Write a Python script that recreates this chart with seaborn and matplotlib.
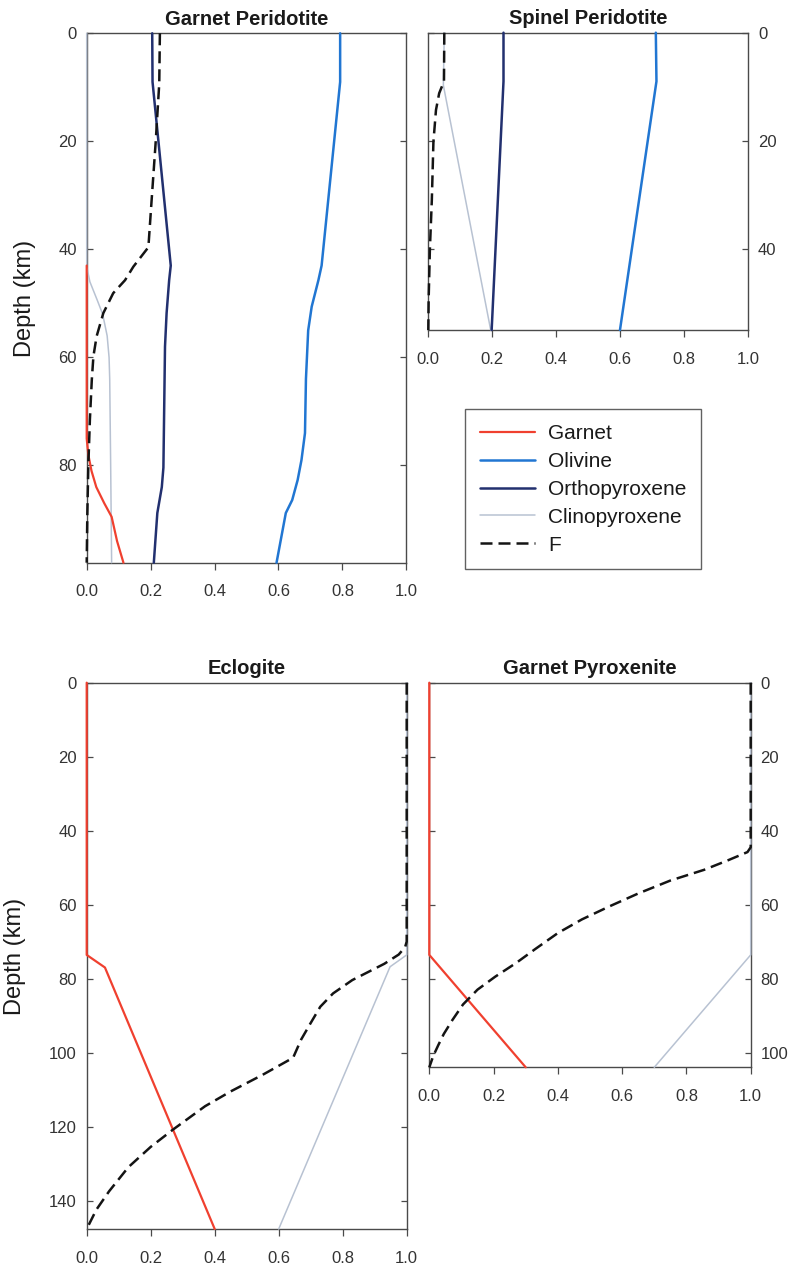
import matplotlib
matplotlib.use("Agg")
import matplotlib.pyplot as plt
import pandas as pd
import seaborn as sns
from matplotlib.lines import Line2D

sns.set_style("white")
plt.rcParams["font.family"] = ["Liberation Sans", "DejaVu Sans"]

# ---------------------------------------------------------------------------
# Modal proportions (fraction) of each phase and melt fraction F vs depth (km)
# ---------------------------------------------------------------------------

# Garnet peridotite
gp_garnet_depth = [43, 75, 78, 81, 84, 87, 89.5, 94, 98]
gp_garnet_frac = [0, 0, 0.005, 0.015, 0.03, 0.055, 0.078, 0.095, 0.115]
gp_olivine_depth = [0, 9, 43, 45.7, 50.6, 55, 64, 74, 79, 82.7, 86.4, 88.8, 98]
gp_olivine_frac = [0.793, 0.793, 0.735, 0.725, 0.704, 0.693, 0.686, 0.683,
                   0.672, 0.66, 0.643, 0.623, 0.594]
gp_opx_depth = [0, 9, 43, 45.7, 51.8, 58, 80.4, 84, 88.8, 98]
gp_opx_frac = [0.205, 0.206, 0.263, 0.258, 0.25, 0.245, 0.24, 0.235, 0.221, 0.21]
gp_cpx_depth = [0, 43.2, 46, 49.4, 52, 56, 60, 64, 80, 98]
gp_cpx_frac = [0, 0, 0.01, 0.033, 0.05, 0.064, 0.07, 0.072, 0.075, 0.078]
gp_f_depth = [0, 9.3, 20, 31, 39.6, 43.2, 45.7, 48.1, 51.8, 56.1, 59.8, 64.1,
              71.5, 80.2, 88.8, 98]
gp_f_frac = [0.229, 0.227, 0.216, 0.203, 0.193, 0.146, 0.12, 0.083, 0.052,
             0.031, 0.021, 0.016, 0.01, 0.005, 0.002, 0]

# Spinel peridotite
sp_olivine_depth = [0, 9, 55]
sp_olivine_frac = [0.711, 0.713, 0.599]
sp_opx_depth = [0, 9, 55]
sp_opx_frac = [0.235, 0.235, 0.198]
sp_cpx_depth = [0, 9.7, 55]
sp_cpx_frac = [0.05, 0.047, 0.195]
sp_f_depth = [0, 9, 11.2, 14.3, 20.2, 31, 40, 49.5, 55]
sp_f_frac = [0.05, 0.049, 0.034, 0.024, 0.016, 0.011, 0.005, 0.001, 0]

# Eclogite
ec_garnet_depth = [0, 73.6, 77, 147.7]
ec_garnet_frac = [0, 0, 0.057, 0.40]
ec_cpx_depth = [0, 73.6, 76.8, 147.7]
ec_cpx_frac = [1.0, 1.0, 0.948, 0.60]
ec_f_depth = [0, 70, 71.5, 73.5, 76, 80.4, 84, 87.6, 92, 96.5, 101.4, 106,
              110.5, 114.5, 120.8, 125.5, 131, 137.5, 142.5, 147.7]
ec_f_frac = [1.0, 1.0, 0.995, 0.975, 0.93, 0.83, 0.77, 0.73, 0.70, 0.67, 0.645,
             0.55, 0.45, 0.37, 0.27, 0.20, 0.13, 0.07, 0.03, 0]

# Garnet pyroxenite
px_garnet_depth = [0, 73.6, 104]
px_garnet_frac = [0, 0, 0.30]
px_cpx_depth = [0, 73.6, 104]
px_cpx_frac = [1.0, 1.0, 0.70]
px_f_depth = [0, 44.5, 45.8, 48, 50.6, 53.5, 57, 60.5, 64, 67.7, 72, 75.8,
              79.5, 83, 87, 91.2, 95, 98, 101, 104]
px_f_frac = [1.0, 1.0, 0.99, 0.93, 0.855, 0.75, 0.65, 0.56, 0.475, 0.40, 0.33,
             0.27, 0.205, 0.15, 0.105, 0.072, 0.045, 0.028, 0.012, 0]

x_ticks = [0.0, 0.2, 0.4, 0.6, 0.8, 1.0]
x_tick_labels = ["0.0", "0.2", "0.4", "0.6", "0.8", "1.0"]
phase_names = ["Garnet", "Olivine", "Orthopyroxene", "Clinopyroxene", "F"]
panel_titles = ["Garnet Peridotite", "Spinel Peridotite", "Eclogite",
                "Garnet Pyroxenite"]

# ---------------------------------------------------------------------------
STYLE = {
    "Garnet": dict(color="#f0402f", lw=1.6),
    "Olivine": dict(color="#2176d2", lw=1.8),
    "Orthopyroxene": dict(color="#22306f", lw=1.8),
    "Clinopyroxene": dict(color="#b8c2d2", lw=1.1),
    "F": dict(color="#141414", lw=1.8),
}
F_DASH = (0, (4.8, 2.4))
DRAW_ORDER = ["Clinopyroxene", "Olivine", "Orthopyroxene", "Garnet", "F"]

W, H = 791, 1266
fig = plt.figure(figsize=(W / 100, H / 100), dpi=100)
fig.patch.set_facecolor("white")


def px_axes(x0, y0, x1, y1):
    """Axes from pixel box (left, top, right, bottom)."""
    return fig.add_axes([x0 / W, 1 - y1 / H, (x1 - x0) / W, (y1 - y0) / H])


def draw_panel(ax, series, depth_max, yticks, title, label_side):
    for name in DRAW_ORDER:
        if name not in series:
            continue
        depth, frac = series[name]
        df = pd.DataFrame({"frac": frac, "depth": depth})
        st = STYLE[name]
        kws = dict(color=st["color"], linewidth=st["lw"], zorder=4,
                   clip_on=False)
        if name == "F":
            kws["linestyle"] = F_DASH
            kws["zorder"] = 5
        sns.lineplot(data=df, x="frac", y="depth", orient="y", sort=False,
                     estimator=None, ax=ax, **kws)
    ax.set_xlim(0, 1)
    ax.set_ylim(depth_max, 0)
    ax.set_xticks(x_ticks)
    ax.set_xticklabels(x_tick_labels)
    ax.set_yticks(yticks)
    ax.set_yticklabels([str(t) for t in yticks])
    ax.set_xlabel("")
    ax.set_ylabel("")
    for sp in ax.spines.values():
        sp.set_visible(True)
        sp.set_color("#4a4a4a")
        sp.set_linewidth(1.0)
        sp.set_zorder(2)
    ax.tick_params(axis="x", which="major", direction="out", length=5,
                   width=0.9, color="#4a4a4a", pad=10.5, labelsize=12,
                   labelcolor="#333333", top=False, bottom=True)
    ax.tick_params(axis="y", which="major", direction="in", length=4.5,
                   width=0.9, color="#4a4a4a", pad=7, labelsize=12,
                   labelcolor="#333333", left=True, right=True,
                   labelleft=(label_side == "left"),
                   labelright=(label_side == "right"))
    ax.set_title(title, fontsize=14.5, fontweight="bold", pad=6,
                 color="#1a1a1a")
    ax.set_facecolor("white")


ax_gp = px_axes(86.7, 33.3, 406.3, 562.7)
draw_panel(ax_gp, {
    "Garnet": (gp_garnet_depth, gp_garnet_frac),
    "Olivine": (gp_olivine_depth, gp_olivine_frac),
    "Orthopyroxene": (gp_opx_depth, gp_opx_frac),
    "Clinopyroxene": (gp_cpx_depth, gp_cpx_frac),
    "F": (gp_f_depth, gp_f_frac),
}, 98, [0, 20, 40, 60, 80], panel_titles[0], "left")

ax_sp = px_axes(428.3, 32.7, 748.3, 330)
draw_panel(ax_sp, {
    "Olivine": (sp_olivine_depth, sp_olivine_frac),
    "Orthopyroxene": (sp_opx_depth, sp_opx_frac),
    "Clinopyroxene": (sp_cpx_depth, sp_cpx_frac),
    "F": (sp_f_depth, sp_f_frac),
}, 55, [0, 20, 40], panel_titles[1], "right")

ax_ec = px_axes(86.7, 682.7, 406.7, 1229)
draw_panel(ax_ec, {
    "Garnet": (ec_garnet_depth, ec_garnet_frac),
    "Clinopyroxene": (ec_cpx_depth, ec_cpx_frac),
    "F": (ec_f_depth, ec_f_frac),
}, 147.7, [0, 20, 40, 60, 80, 100, 120, 140], panel_titles[2], "left")

ax_px = px_axes(429.3, 682.7, 750.7, 1067.3)
draw_panel(ax_px, {
    "Garnet": (px_garnet_depth, px_garnet_frac),
    "Clinopyroxene": (px_cpx_depth, px_cpx_frac),
    "F": (px_f_depth, px_f_frac),
}, 104, [0, 20, 40, 60, 80, 100], panel_titles[3], "right")

# depth axis labels
fig.text(25.5 / W, 1 - 298 / H, "Depth (km)", rotation=90, ha="center",
         va="center", fontsize=17, color="#1a1a1a")
fig.text(15.5 / W, 1 - 956 / H, "Depth (km)", rotation=90, ha="center",
         va="center", fontsize=17, color="#1a1a1a")

# shared legend
handles = []
for name in phase_names:
    st = STYLE[name]
    handles.append(Line2D([], [], color=st["color"], linewidth=st["lw"],
                          linestyle=F_DASH if name == "F" else "-"))
leg = fig.legend(handles, phase_names, loc="upper left",
                 bbox_to_anchor=(465 / W, 1 - 409.3 / H), borderaxespad=0,
                 frameon=True, fancybox=False, edgecolor="#3a3a3a",
                 fontsize=15, borderpad=0.7, labelspacing=0.43,
                 handlelength=2.65, handletextpad=0.65)
leg.get_frame().set_linewidth(1.0)
for t in leg.get_texts():
    t.set_color("#1a1a1a")

fig.savefig("out.png", dpi=100, facecolor="white")
